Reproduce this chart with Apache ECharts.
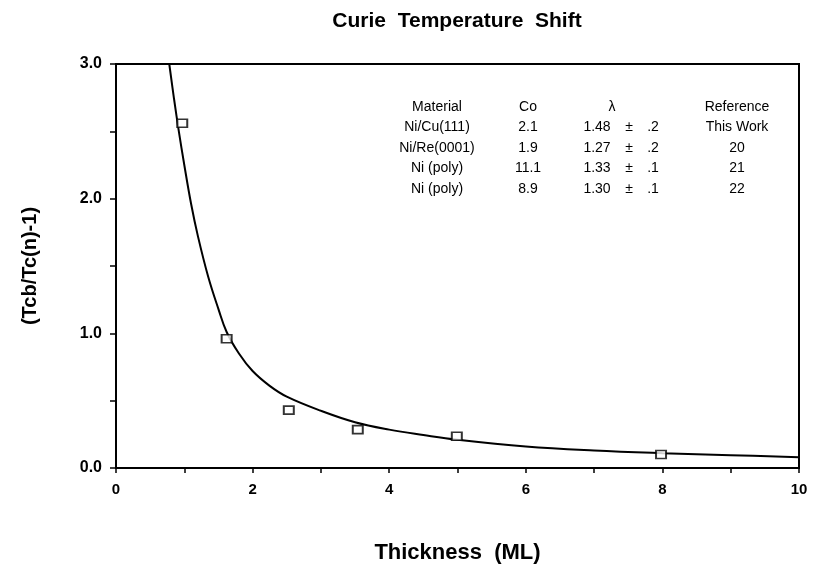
<!DOCTYPE html>
<html>
<head>
<meta charset="utf-8">
<script src="https://cdn.jsdelivr.net/npm/echarts@6/dist/echarts.min.js"></script>
<style>
html,body{margin:0;padding:0;background:#fff;}
#c{width:815px;height:569px;}
</style>
</head>
<body>
<div id="c"></div>
<script>
// ---- data ----
var titleText = 'Curie  Temperature  Shift';
var xName = 'Thickness  (ML)';
var yName = '(Tcb/Tc(n)-1)';

var pointX = [0.97, 1.62, 2.53, 3.54, 4.99, 7.98];
var pointY = [2.56, 0.96, 0.43, 0.285, 0.236, 0.10];

var curveX = [0.78, 0.85, 0.92, 1.0, 1.1, 1.2, 1.35, 1.5, 1.62, 1.8, 2.0, 2.25, 2.5, 3.0, 3.5, 4.0, 4.5, 5.0, 6.0, 7.0, 8.0, 9.0, 10.0];
var curveY = [3.0, 2.74, 2.50, 2.25, 1.96, 1.72, 1.42, 1.18, 1.01, 0.85, 0.72, 0.61, 0.53, 0.425, 0.34, 0.285, 0.245, 0.21, 0.16, 0.13, 0.11, 0.095, 0.08];

var tableHeaders = ['Material', 'Co', '\u03bb', 'Reference'];
var materials = ['Ni/Cu(111)', 'Ni/Re(0001)', 'Ni (poly)', 'Ni (poly)'];
var coValues = ['2.1', '1.9', '11.1', '8.9'];
var lambdaValues = ['1.48', '1.27', '1.33', '1.30'];
var lambdaErrors = ['.2', '.2', '.1', '.1'];
var references = ['This Work', '20', '21', '22'];

// ---- chart ----
var chart = echarts.init(document.getElementById('c'), null, {renderer: 'canvas'});

var pts = pointX.map(function (x, i) { return [x, pointY[i]]; });
var crv = curveX.map(function (x, i) { return [x, curveY[i]]; });

var font = 'Liberation Sans, Arial, Helvetica, sans-serif';
var graphics = [];
graphics.push({
  type: 'text', x: 457, y: 21,
  style: {text: titleText, font: 'bold 21px ' + font, fill: '#000', textAlign: 'center', textVerticalAlign: 'middle'}
});
var colX = [437, 528, 612, 737];
var rowY0 = 107, rowStep = 20.5;
tableHeaders.forEach(function (h, i) {
  graphics.push({type: 'text', x: colX[i], y: rowY0,
    style: {text: h, font: '14px ' + font, fill: '#000', textAlign: 'center', textVerticalAlign: 'middle'}});
});
materials.forEach(function (m, r) {
  var y = rowY0 + rowStep * (r + 1);
  var cells = [[materials[r], 437], [coValues[r], 528], [lambdaValues[r], 597], ['\u00b1', 629], [lambdaErrors[r], 653], [references[r], 737]];
  cells.forEach(function (c) {
    graphics.push({type: 'text', x: c[1], y: y,
      style: {text: c[0], font: '14px ' + font, fill: '#000', textAlign: 'center', textVerticalAlign: 'middle'}});
  });
});

chart.setOption({
  backgroundColor: '#fff',
  animation: false,
  grid: {left: 116, right: 16, top: 64, bottom: 97, show: true, borderColor: '#000', borderWidth: 2, backgroundColor: 'transparent'},
  xAxis: {
    type: 'value', min: 0, max: 10, interval: 1,
    name: xName, nameLocation: 'middle', nameGap: 74,
    nameTextStyle: {fontFamily: font, fontWeight: 'bold', fontSize: 22, color: '#000'},
    axisLine: {show: true, lineStyle: {color: '#000', width: 2}},
    axisTick: {show: true, inside: false, length: 5, lineStyle: {color: '#000', width: 1.5}},
    axisLabel: {color: '#000', fontFamily: font, fontWeight: 'bold', fontSize: 15, margin: 14,
      formatter: function (v) { return (Math.round(v) % 2 === 0) ? String(Math.round(v)) : ''; }},
    splitLine: {show: false}
  },
  yAxis: {
    type: 'value', min: 0, max: 3, interval: 0.5,
    name: yName, nameLocation: 'middle', nameGap: 76, nameRotate: 90,
    nameTextStyle: {fontFamily: font, fontWeight: 'bold', fontSize: 20, color: '#000'},
    axisLine: {show: true, lineStyle: {color: '#000', width: 2}},
    axisTick: {show: true, inside: false, length: 6, lineStyle: {color: '#000', width: 1.5}},
    axisLabel: {color: '#000', fontFamily: font, fontWeight: 'bold', fontSize: 16, margin: 14,
      formatter: function (v) { return (Math.abs(v - Math.round(v)) < 1e-6) ? v.toFixed(1) : ''; }},
    splitLine: {show: false}
  },
  series: [
    {
      type: 'line', data: crv, smooth: 0.4, showSymbol: false,
      lineStyle: {color: '#000', width: 2}, z: 2, silent: true
    },
    {
      type: 'scatter', data: pts, symbol: 'rect', symbolSize: [10, 8],
      itemStyle: {color: '#fff', borderColor: '#000', borderWidth: 1.8}, z: 3
    }
  ],
  graphic: graphics
});
</script>
</body>
</html>
